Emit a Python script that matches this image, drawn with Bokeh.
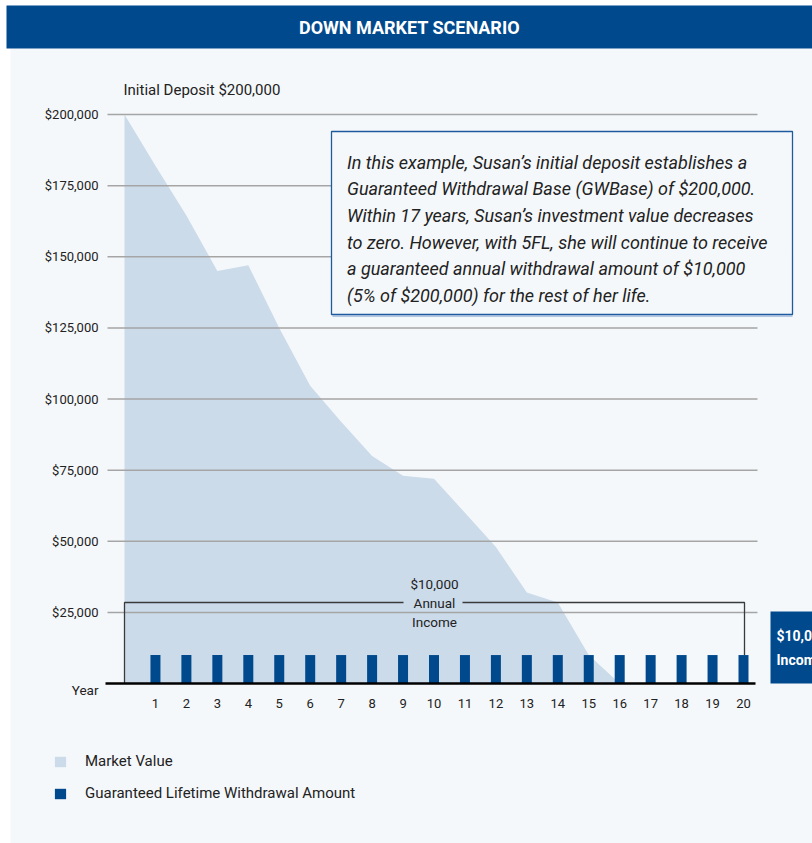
from bokeh.plotting import figure
from bokeh.models import Range1d, LinearAxis, FixedTicker, Legend, LegendItem
from bokeh.core.properties import value
from bokeh.embed import file_html
from bokeh.resources import INLINE

# ---------------- data ----------------
title = "DOWN MARKET SCENARIO"
mv_years = [0, 1, 2, 3, 4, 5, 6, 7, 8, 9, 10, 11, 12, 13, 14, 15, 16]
market_value = [200000, 182000, 164500, 145000, 147000, 125000, 104700, 92000,
                80000, 73000, 72000, 60000, 48000, 32000, 28500, 10000, 0]
gw_years = [1, 2, 3, 4, 5, 6, 7, 8, 9, 10, 11, 12, 13, 14, 15, 16, 17, 18, 19, 20]
gw_amount = [10000, 10000, 10000, 10000, 10000, 10000, 10000, 10000, 10000, 10000,
             10000, 10000, 10000, 10000, 10000, 10000, 10000, 10000, 10000, 10000]
y_ticks = [25000, 50000, 75000, 100000, 125000, 150000, 175000, 200000]
y_tick_labels = ["$25,000", "$50,000", "$75,000", "$100,000", "$125,000",
                 "$150,000", "$175,000", "$200,000"]
x_ticks = gw_years
x_tick_labels = ["1", "2", "3", "4", "5", "6", "7", "8", "9", "10",
                 "11", "12", "13", "14", "15", "16", "17", "18", "19", "20"]
initial_label = "Initial Deposit $200,000"
x_label = "Year"
bracket_text = ["$10,000", "Annual", "Income"]
side_box_text = ["$10,000", "Income"]
callout_lines = [
    "In this example, Susan\u2019s initial deposit establishes a",
    "Guaranteed Withdrawal Base (GWBase) of $200,000.",
    "Within 17 years, Susan\u2019s investment value decreases",
    "to zero. However, with 5FL, she will continue to receive",
    "a guaranteed annual withdrawal amount of $10,000",
    "(5% of $200,000) for the rest of her life.",
]
legend_labels = ["Market Value", "Guaranteed Lifetime Withdrawal Amount"]

# ---------------- styles ----------------
BLUE = "#00498d"
AREA = "#cbdbea"
PANEL = "#f5f8fb"
GRID = "#a5a5a5"
TXT = "#222222"
FONT = value("Roboto")

W, H = 812, 843
LEFT, TOP = 0, 0
YEAR0_PX, PX_PER_YEAR = 124.0, 30.95
ZERO_PX, PX_PER_USD = 683.0, 2.845 / 1000.0


def X(px):
    return (px - YEAR0_PX) / PX_PER_YEAR


def Y(py):
    return (ZERO_PX - py) / PX_PER_USD


p = figure(width=W, height=H,
           x_range=Range1d(X(LEFT), X(LEFT + W)),
           y_range=Range1d(Y(TOP + H), Y(TOP)),
           x_axis_type=None, y_axis_type=None,
           output_backend="svg", toolbar_location=None,
           min_border=0, min_border_left=0, min_border_right=0,
           min_border_top=0, min_border_bottom=0)
p.outline_line_color = None
p.background_fill_color = "white"
p.border_fill_color = "white"

# panel background
p.quad(left=X(10), right=X(W + 20), top=Y(48), bottom=Y(H + 20),
       fill_color=PANEL, line_color=None)

# header
p.quad(left=X(6), right=X(W + 20), top=Y(5), bottom=Y(48),
       fill_color=BLUE, line_color=None)
p.text(x=[X(409)], y=[Y(27)], text=[title], text_align="center",
       text_baseline="middle", text_color="white", text_font=FONT,
       text_font_style="bold", text_font_size="18px")

# market value area
area_r = p.varea(x=mv_years, y1=0, y2=market_value, fill_color=AREA)

# gridlines
p.segment(x0=X(107), x1=X(757), y0=y_ticks, y1=y_ticks,
          line_color=GRID, line_width=1.5)

# withdrawal bars
bar_r = p.vbar(x=gw_years, top=gw_amount, bottom=0, width=10 / PX_PER_YEAR,
               fill_color=BLUE, line_color=None)

# bracket
bt = Y(602)
p.multi_line(xs=[[0, 0, X(403)], [X(462), X(744), X(744)]],
             ys=[[0, bt, bt], [bt, bt, gw_amount[-1]]],
             line_color="#3a3a3a", line_width=1.3)
p.text(x=[X(434)] * 3, y=[Y(583), Y(602), Y(621)], text=bracket_text,
       text_align="center", text_baseline="middle", text_color=TXT,
       text_font=FONT, text_font_size="13.5px")

# callout box
p.quad(left=X(331), right=X(792), top=Y(131), bottom=Y(314),
       fill_color=PANEL, line_color="#1f5a9e", line_width=1.3)
p.segment(x0=X(332), x1=X(792), y0=Y(315.5), y1=Y(315.5),
          line_color="#9bb6d8", line_width=1.5)
p.text(x=[X(346.5)] * len(callout_lines),
       y=[Y(161.7 + i * 26.65) for i in range(len(callout_lines))],
       text=callout_lines, text_align="left", text_baseline="alphabetic",
       text_color=TXT, text_font=FONT, text_font_style="italic",
       text_font_size="18px")

# initial deposit label, Year label
p.text(x=[X(123)], y=[Y(89)], text=[initial_label], text_align="left",
       text_baseline="middle", text_color=TXT, text_font=FONT,
       text_font_size="15px")
p.text(x=[X(98)], y=[Y(689)], text=[x_label], text_align="right",
       text_baseline="middle", text_color=TXT, text_font=FONT,
       text_font_size="13.5px")

# right side box (clipped at the page edge, as in the original)
p.quad(left=X(770), right=X(W + 20), top=Y(611), bottom=0,
       fill_color=BLUE, line_color=None)
p.text(x=[X(776)] * 2, y=[Y(635), Y(659)], text=side_box_text,
       text_align="left", text_baseline="middle", text_color="white",
       text_font=FONT, text_font_style="bold", text_font_size="14px")

# axes
yaxis = LinearAxis(fixed_location=X(105), ticker=FixedTicker(ticks=y_ticks),
                   major_label_overrides={t: l for t, l in zip(y_ticks, y_tick_labels)})
yaxis.axis_line_color = None
yaxis.major_tick_line_color = None
yaxis.minor_tick_line_color = None
yaxis.major_tick_out = 0
yaxis.major_label_standoff = 7
yaxis.major_label_text_font = "Roboto"
yaxis.major_label_text_font_size = "13px"
yaxis.major_label_text_color = TXT
yaxis.major_label_text_baseline = "top"
p.add_layout(yaxis, "left")

xaxis = LinearAxis(fixed_location=0, ticker=FixedTicker(ticks=x_ticks),
                   major_label_overrides={t: l for t, l in zip(x_ticks, x_tick_labels)},
                   bounds=(X(105), X(755)))
xaxis.axis_line_color = "black"
xaxis.axis_line_width = 2.5
xaxis.major_tick_line_color = None
xaxis.minor_tick_line_color = None
xaxis.major_tick_out = 0
xaxis.major_label_standoff = 15
xaxis.major_label_text_font = "Roboto"
xaxis.major_label_text_font_size = "13px"
xaxis.major_label_text_color = TXT
p.add_layout(xaxis, "below")

# legend
legend = Legend(items=[LegendItem(label=legend_labels[0], renderers=[area_r]),
                       LegendItem(label=legend_labels[1], renderers=[bar_r])],
                location=(53, 41), orientation="vertical",
                glyph_width=14, glyph_height=13, label_standoff=18,
                spacing=14, padding=0, margin=0, label_height=13,
                border_line_color=None, background_fill_alpha=0,
                label_text_font="Roboto", label_text_font_size="15px",
                label_text_color=TXT)
p.add_layout(legend)

open("out.html", "w").write(file_html(p, INLINE))
